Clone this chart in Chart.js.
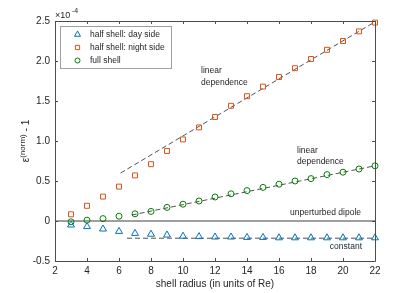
<!DOCTYPE html>
<html>
<head>
<meta charset="utf-8">
<script src="https://cdn.jsdelivr.net/npm/chart.js@4"></script>
<style>
  html, body { margin: 0; padding: 0; background: #fff; }
  #wrap { width: 415px; height: 293px; }
</style>
</head>
<body>
<div id="wrap"><canvas id="myChart" width="415" height="293"></canvas></div>
<script>
// shell radius (units of Re)
const radius = [3, 4, 5, 6, 7, 8, 9, 10, 11, 12, 13, 14, 15, 16, 17, 18, 19, 20, 21, 22];

// values in units of 1e-4
const daySide = [-0.05, -0.07, -0.10, -0.13, -0.155, -0.165, -0.175, -0.19, -0.195, -0.20,
                 -0.20, -0.205, -0.205, -0.21, -0.21, -0.21, -0.21, -0.21, -0.21, -0.21];
const nightSide = [0.084, 0.19, 0.305, 0.43, 0.57, 0.71, 0.875, 1.02, 1.17, 1.30,
                   1.44, 1.56, 1.68, 1.80, 1.91, 2.025, 2.14, 2.25, 2.37, 2.48];
const fullShell = [-0.01, 0.01, 0.03, 0.06, 0.09, 0.12, 0.17, 0.21, 0.25, 0.30,
                   0.34, 0.38, 0.42, 0.46, 0.50, 0.53, 0.58, 0.61, 0.65, 0.69];

// dashed fit lines (end points)
const nightFitX = [6.1, 22];
const nightFitY = [0.60, 2.49];
const fullFitX = [6.8, 22];
const fullFitY = [0.075, 0.69];
const dayFitX = [6.5, 22];
const dayFitY = [-0.215, -0.215];
const dipoleX = [2, 22];
const dipoleY = [0, 0];

const xTicks = [2, 4, 6, 8, 10, 12, 14, 16, 18, 20, 22];
const yTicks = [-0.5, 0, 0.5, 1, 1.5, 2, 2.5];

const legendLabels = ['half shell: day side', 'half shell: night side', 'full shell'];

const pts = (xs, ys) => xs.map((x, i) => ({ x: x, y: ys[i] }));

const FONT = 'Liberation Sans, Arial, sans-serif';
const AXIS = '#4d4d4d';

// ticks inward on all 4 sides, box, labels, legend
const decorPlugin = {
    id: 'decor',
    afterDraw(chart) {
        const ctx = chart.ctx;
        const a = chart.chartArea;
        const xs = chart.scales.x, ys = chart.scales.y;
        ctx.save();
        ctx.strokeStyle = AXIS;
        ctx.lineWidth = 1;
        ctx.beginPath();
        ctx.rect(a.left + 0.5, a.top + 0.5, a.right - a.left, a.bottom - a.top);
        ctx.stroke();
        ctx.beginPath();
        xTicks.forEach(v => {
            const px = Math.round(xs.getPixelForValue(v)) + 0.5;
            ctx.moveTo(px, a.bottom); ctx.lineTo(px, a.bottom - 3);
            ctx.moveTo(px, a.top); ctx.lineTo(px, a.top + 3);
        });
        yTicks.forEach(v => {
            const py = Math.round(ys.getPixelForValue(v)) + 0.5;
            ctx.moveTo(a.left, py); ctx.lineTo(a.left + 3, py);
            ctx.moveTo(a.right, py); ctx.lineTo(a.right - 3, py);
        });
        ctx.stroke();

        // x10^-4
        ctx.fillStyle = '#262626';
        ctx.textBaseline = 'alphabetic';
        ctx.textAlign = 'left';
        ctx.font = '9px ' + FONT;
        ctx.fillText('\u00d710', a.left, a.top - 3);
        ctx.font = '7px ' + FONT;
        ctx.fillText('-4', a.left + 17, a.top - 8);

        // axis titles
        ctx.font = '10px ' + FONT;
        ctx.textAlign = 'center';
        ctx.textBaseline = 'middle';
        ctx.fillText('shell radius (in units of Re)', (a.left + a.right) / 2, 284);

        ctx.save();
        ctx.translate(26, (a.top + a.bottom) / 2);
        ctx.rotate(-Math.PI / 2);
        ctx.textAlign = 'left';
        ctx.textBaseline = 'alphabetic';
        ctx.font = '10px ' + FONT;
        const w1 = ctx.measureText('\u03b5').width;
        ctx.font = '8px ' + FONT;
        const w2 = ctx.measureText('(norm)').width;
        ctx.font = '10px ' + FONT;
        const w3 = ctx.measureText(' - 1').width;
        let x0 = -(w1 + w2 + w3) / 2;
        ctx.fillText('\u03b5', x0, 3);
        ctx.font = '8px ' + FONT;
        ctx.fillText('(norm)', x0 + w1, -1);
        ctx.font = '10px ' + FONT;
        ctx.fillText(' - 1', x0 + w1 + w2, 3);
        ctx.restore();

        // annotations
        ctx.font = '8.5px ' + FONT;
        ctx.textAlign = 'left';
        ctx.textBaseline = 'middle';
        ctx.fillText('linear', 201, 71);
        ctx.fillText('dependence', 201, 83);
        ctx.fillText('linear', 297, 151);
        ctx.fillText('dependence', 297, 162);
        ctx.textAlign = 'right';
        ctx.fillText('unperturbed dipole', 361, 213);
        ctx.fillText('constant', 362, 247);

        // legend box
        ctx.fillStyle = '#fff';
        ctx.fillRect(60.5, 26.5, 111, 42);
        ctx.strokeStyle = '#a0a0a0';
        ctx.strokeRect(60.5, 26.5, 111, 42);
        const rowsY = [34.5, 47.5, 60.5];
        for (let i = 0; i < 3; i++) {
            const ds = chart.data.datasets[i];
            ctx.strokeStyle = ds.borderColor;
            ctx.fillStyle = 'rgba(0,0,0,0)';
            ctx.lineWidth = ds.borderWidth;
            Chart.helpers.drawPoint(ctx, {
                pointStyle: ds.pointStyle, radius: ds.pointRadius - 0.5, borderWidth: ds.borderWidth, rotation: 0
            }, 77.5, rowsY[i]);
            ctx.fillStyle = '#262626';
            ctx.textAlign = 'left';
            ctx.font = '8.5px ' + FONT;
            ctx.fillText(legendLabels[i], 90, rowsY[i]);
        }
        ctx.restore();
    }
};

const markerSet = (label, ys, color, style, r) => ({
    label: label,
    data: pts(radius, ys),
    showLine: false,
    pointStyle: style,
    pointRadius: r,
    pointBorderWidth: 1,
    borderWidth: 1,
    borderColor: color,
    pointBorderColor: color,
    pointBackgroundColor: 'rgba(0,0,0,0)',
    backgroundColor: 'rgba(0,0,0,0)',
    clip: false
});

const fitSet = (xs, ys, color, dash, width) => ({
    label: '',
    data: pts(xs, ys),
    showLine: true,
    pointRadius: 0,
    borderColor: color,
    borderWidth: width,
    borderDash: dash,
    fill: false,
    clip: false
});

new Chart(document.getElementById('myChart').getContext('2d'), {
    type: 'scatter',
    data: {
        datasets: [
            markerSet(legendLabels[0], daySide, '#0072BD', 'triangle', 4),
            markerSet(legendLabels[1], nightSide, '#D95319', 'rect', 3.5),
            markerSet(legendLabels[2], fullShell, '#008000', 'circle', 3),
            fitSet(dipoleX, dipoleY, '#7f7f7f', [], 1.5),
            fitSet(nightFitX, nightFitY, '#262626', [5, 3], 0.8),
            fitSet(fullFitX, fullFitY, '#262626', [5, 3], 0.8),
            fitSet(dayFitX, dayFitY, '#262626', [5, 3], 0.8)
        ]
    },
    options: {
        responsive: false,
        animation: false,
        layout: { padding: { top: 21, right: 40, left: 0, bottom: 0 } },
        plugins: { legend: { display: false }, tooltip: { enabled: false } },
        scales: {
            x: {
                type: 'linear', min: 2, max: 22,
                afterFit: s => { s.height = 32; },
                afterBuildTicks: s => { s.ticks = xTicks.map(v => ({ value: v })); },
                grid: { display: false, drawTicks: false },
                border: { display: false },
                ticks: { color: '#262626', font: { family: FONT, size: 10 }, padding: 4, maxRotation: 0 }
            },
            y: {
                type: 'linear', min: -0.5, max: 2.5,
                afterFit: s => { s.width = 55; },
                afterBuildTicks: s => { s.ticks = yTicks.map(v => ({ value: v })); },
                grid: { display: false, drawTicks: false },
                border: { display: false },
                ticks: { color: '#262626', font: { family: FONT, size: 10 }, padding: 5 }
            }
        }
    },
    plugins: [decorPlugin]
});
</script>
</body>
</html>
